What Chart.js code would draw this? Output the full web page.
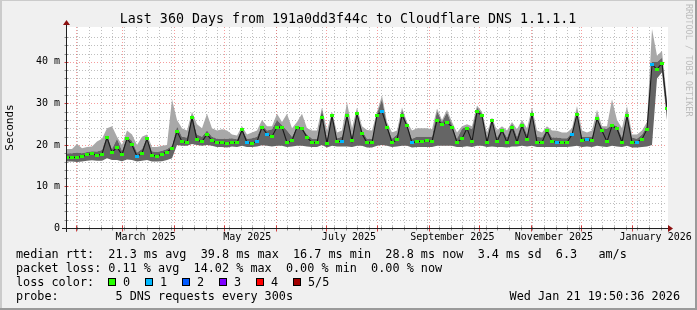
<!DOCTYPE html>
<html>
<head>
<meta charset="utf-8">
<script src="https://cdn.jsdelivr.net/npm/chart.js@4/dist/chart.umd.min.js"></script>
<style>
html, body { margin: 0; padding: 0; background: #f0f0f0; }
#wrap { position: relative; width: 697px; height: 310px; overflow: hidden; }
#c { position: absolute; left: 0; top: 0; }
.leg { position: absolute; font-family: 'DejaVu Sans Mono', monospace; font-size: 11.8px; line-height: 14px; white-space: pre; color: #000; }
.box { position: absolute; top: 278px; width: 6px; height: 6px; border: 1px solid #000; }
</style>
</head>
<body>
<div id="wrap">
  <canvas id="c" width="697" height="310"></canvas>
  <div id="legend"></div>
</div>
<script>
// ─── data (one sample every 3 days, day 0 = Jan 26 2025 19:50) ───
const DAY_STEP = 3;

const median = [
  17.0, 17.0, 17.0, 17.2, 17.6, 17.9, 17.5, 17.8, 21.8, 18.2,
  19.5, 17.6, 21.5, 20.0, 17.2, 18.0, 21.5, 17.5, 17.3, 17.8,
  18.3, 19.2, 23.3, 20.8, 20.5, 26.5, 21.2, 20.8, 22.6, 21.0,
  20.5, 20.5, 20.4, 20.6, 20.5, 23.6, 20.6, 20.4, 20.8, 24.3,
  22.6, 22.0, 24.3, 24.3, 20.6, 21.0, 24.3, 23.9, 21.8, 20.6,
  20.5, 26.7, 20.4, 27.0, 20.8, 20.9, 27.0, 21.0, 27.5, 22.7,
  20.5, 20.5, 27.2, 28.1, 24.3, 20.6, 21.2, 27.2, 24.6, 20.5,
  20.8, 20.9, 21.0, 20.8, 26.0, 25.0, 25.5, 24.3, 20.6, 21.5,
  24.0, 20.8, 28.0, 27.0, 20.6, 25.9, 20.8, 23.5, 20.6, 24.3,
  20.7, 24.6, 21.4, 27.4, 20.6, 20.6, 23.4, 20.8, 20.7, 20.5,
  20.6, 22.5, 27.4, 21.0, 21.3, 21.0, 26.3, 23.4, 20.8, 24.6,
  23.9, 20.6, 27.0, 20.6, 20.7, 21.4, 23.8, 39.4, 38.2, 39.7,
  28.8
];

// bottom of the smoke
const smokeLo = [
  16.0, 16.0, 15.9, 16.0, 16.2, 16.3, 16.2, 16.2, 16.8, 16.4,
  16.4, 16.1, 16.5, 16.4, 16.0, 16.2, 16.4, 16.0, 16.0, 16.1,
  16.4, 16.8, 20.0, 19.8, 19.8, 20.2, 20.0, 19.8, 20.0, 19.8,
  19.5, 19.5, 19.4, 19.6, 19.5, 19.8, 19.5, 19.5, 19.6, 19.9,
  19.8, 19.6, 19.8, 19.8, 19.5, 19.6, 19.8, 19.8, 19.6, 19.5,
  19.5, 20.0, 19.4, 19.8, 19.6, 19.6, 19.6, 19.5, 19.8, 19.8,
  19.4, 19.4, 19.8, 20.0, 19.8, 19.5, 19.6, 19.8, 19.8, 19.4,
  19.5, 19.5, 19.5, 19.5, 19.8, 19.8, 19.8, 19.8, 19.5, 19.5,
  19.7, 19.5, 19.8, 19.8, 19.5, 19.6, 19.5, 19.5, 19.4, 19.6,
  19.6, 19.8, 19.6, 19.8, 19.5, 19.5, 19.5, 19.5, 19.5, 19.5,
  19.5, 19.6, 19.8, 19.5, 19.6, 19.5, 19.8, 19.6, 19.5, 19.8,
  19.6, 19.5, 19.8, 19.4, 19.4, 19.5, 19.6, 20.0, 36.0, 37.5,
  26.0
];

// top of the dark smoke
const smokeMid = [
  18.0, 18.0, 18.2, 18.0, 18.3, 18.5, 18.4, 18.8, 22.5, 19.0,
  21.5, 18.6, 22.0, 21.0, 18.2, 19.0, 22.0, 18.5, 18.3, 18.6,
  19.0, 19.8, 24.5, 22.0, 21.8, 27.5, 22.5, 22.0, 23.5, 22.0,
  21.5, 21.5, 21.5, 21.6, 21.4, 24.0, 21.5, 21.6, 22.0, 24.8,
  23.5, 23.8, 26.0, 24.8, 23.5, 22.0, 24.5, 24.2, 22.5, 21.5,
  21.5, 28.7, 21.5, 27.5, 21.6, 22.0, 27.8, 22.0, 28.0, 23.5,
  21.5, 21.5, 27.5, 31.0, 24.8, 21.5, 22.5, 28.5, 25.0, 21.5,
  22.0, 22.0, 22.0, 22.0, 28.2, 25.5, 27.8, 24.8, 21.5, 23.9,
  24.5, 23.8, 29.0, 27.5, 21.5, 26.0, 21.8, 23.9, 21.8, 25.2,
  22.0, 25.4, 22.5, 27.8, 22.0, 21.8, 23.8, 21.8, 21.8, 21.6,
  21.6, 23.0, 28.0, 22.0, 22.0, 22.0, 26.8, 24.0, 23.9, 25.0,
  24.5, 21.8, 27.5, 21.8, 21.5, 22.5, 24.5, 40.0, 40.0, 41.0,
  30.0
];

// top of the light smoke
const smokeHi = [
  19.0, 19.0, 20.2, 19.2, 19.5, 19.6, 20.8, 21.5, 24.0, 24.5,
  22.0, 20.0, 23.5, 22.5, 20.0, 22.0, 22.5, 19.5, 19.5, 19.8,
  20.0, 31.0, 26.0, 24.0, 23.5, 28.0, 25.0, 24.0, 27.5, 24.0,
  23.5, 23.8, 23.5, 22.5, 22.3, 24.5, 22.5, 23.0, 23.5, 26.0,
  24.5, 24.5, 27.5, 25.5, 27.5, 24.0, 25.5, 27.5, 24.0, 23.5,
  23.5, 29.0, 23.5, 28.0, 23.0, 23.5, 30.3, 24.0, 29.0, 24.5,
  23.6, 23.5, 28.0, 31.9, 25.5, 23.0, 23.5, 29.0, 25.5, 23.5,
  24.0, 24.0, 24.0, 23.8, 28.8, 26.0, 28.5, 25.5, 23.0, 24.5,
  25.0, 24.5, 29.5, 28.0, 23.0, 26.5, 23.5, 24.5, 23.5, 25.5,
  23.8, 26.0, 24.0, 29.0, 23.5, 23.0, 24.5, 23.5, 23.4, 23.0,
  23.0, 24.0, 29.4, 23.5, 23.0, 23.5, 28.5, 24.5, 24.5, 31.0,
  26.0, 24.0, 29.4, 22.5, 22.5, 23.5, 25.5, 47.9, 41.5, 42.6,
  31.0
];

// samples that had 1/5 loss (all others 0)
const lossOnePoints = [14, 36, 38, 40, 55, 63, 69, 98, 101, 104, 114, 117];

const days = median.map((_, i) => i * DAY_STEP);

// axis stuff (days since start)
const monthStarts = [5.17, 33.17, 64.17, 94.17, 125.17, 155.17, 186.17, 217.17, 247.17, 278.17, 308.17, 339.17];
const labelDays = [47.17, 108.17, 169.17, 231.17, 292.17, 353.17];
const monthLabels = ['March 2025', 'May 2025', 'July 2025', 'September 2025', 'November 2025', 'January 2026'];
const firstSunday = 6.17;
const yTicks = [0, 10, 20, 30, 40];
const yTickLabels = ['0', '10 m', '20 m', '30 m', '40 m'];

const titleText = 'Last 360 Days from 191a0dd3f44c to Cloudflare DNS 1.1.1.1';
const rttStats = ['21.3 ms avg', '39.8 ms max', '16.7 ms min', '28.8 ms now', '3.4 ms sd', '6.3   am/s'];
const lossStats = ['0.11 % avg', '14.02 % max', '0.00 % min', '0.00 % now'];
const lossNames = ['0', '1', '2', '3', '4', '5/5'];
const lossColors = ['#26ff00', '#00b8ff', '#0059ff', '#7e00ff', '#ff0000', '#a10000'];
const probeText = '5 DNS requests every 300s';
const stampText = 'Wed Jan 21 19:50:36 2026';

// ─── legend (html text) ───
const leg = document.getElementById('legend');
function addText(txt, left, top, extra) {
    const d = document.createElement('div');
    d.className = 'leg';
    d.textContent = txt;
    d.style.left = left + 'px';
    d.style.top = top + 'px';
    if (extra) Object.assign(d.style, extra);
    leg.appendChild(d);
}
addText('median rtt:  ' + rttStats.join('  '), 16, 247);
addText('packet loss: ' + lossStats.join('  '), 16, 261);
addText('loss color:', 16, 275);
lossNames.forEach((n, k) => {
    const b = document.createElement('div');
    b.className = 'box';
    b.style.left = (108 + k * 37) + 'px';
    b.style.background = lossColors[k];
    leg.appendChild(b);
    addText(n, 123 + k * 37, 275);
});
addText('probe:        ' + probeText, 16, 289);
addText(stampText, 0, 289, { left: 'auto', right: '17px' });

// ─── median marks ───
function makeMark(color) {
    const cv = document.createElement('canvas');
    cv.width = 4; cv.height = 3;
    const c = cv.getContext('2d');
    c.fillStyle = color;
    c.fillRect(0, 0, 4, 3);
    return cv;
}
const marks = [makeMark(lossColors[0]), makeMark(lossColors[1])];

const pts = arr => arr.map((v, i) => ({ x: days[i], y: v }));

const MONO = "'DejaVu Sans Mono', monospace";

const rrdFrame = {
    id: 'rrdFrame',
    beforeDraw(chart) {
        const { ctx, chartArea: a, width, height } = chart;
        ctx.save();
        ctx.fillStyle = '#f0f0f0';
        ctx.fillRect(0, 0, width, height);
        ctx.fillStyle = '#cbcbcb';
        ctx.fillRect(0, 0, width, 1);
        ctx.fillRect(0, 0, 2, height);
        ctx.fillStyle = '#9a9a9a';
        ctx.fillRect(0, height - 2, width, 2);
        ctx.fillRect(width - 2, 0, 2, height);
        ctx.fillStyle = '#ffffff';
        ctx.fillRect(a.left, a.top, a.right - a.left + 1, a.bottom - a.top);
        // title
        ctx.font = '13.3px ' + MONO;
        ctx.fillStyle = '#000';
        ctx.textAlign = 'center';
        ctx.textBaseline = 'middle';
        ctx.fillText(titleText, 348, 20);
        ctx.restore();
    },
    beforeDatasetsDraw(chart) {
        const { ctx, chartArea: a } = chart;
        const xs = chart.scales.x, ys = chart.scales.y;
        ctx.save();
        ctx.lineWidth = 1;
        ctx.setLineDash([1, 2]);
        const vline = (d, color) => {
            const px = Math.round(xs.getPixelForValue(d)) + 0.5;
            ctx.strokeStyle = color;
            ctx.beginPath(); ctx.moveTo(px, a.top); ctx.lineTo(px, a.bottom); ctx.stroke();
        };
        const hline = (v, color) => {
            const py = Math.round(ys.getPixelForValue(v)) + 0.5;
            ctx.strokeStyle = color;
            ctx.beginPath(); ctx.moveTo(a.left, py); ctx.lineTo(a.right, py); ctx.stroke();
        };
        for (let d = firstSunday; d < 360; d += 7) vline(d, 'rgba(170,170,170,0.75)');
        for (let v = 2; v < 48; v += 2) if (v % 10) hline(v, 'rgba(170,170,170,0.75)');
        monthStarts.forEach(d => vline(d, 'rgba(240,90,90,0.6)'));
        yTicks.slice(1).forEach(v => hline(v, 'rgba(240,90,90,0.6)'));
        ctx.restore();
    },
    afterDraw(chart) {
        const { ctx, chartArea: a } = chart;
        const xs = chart.scales.x, ys = chart.scales.y;
        ctx.save();
        const y0 = Math.round(a.bottom) + 0.5;
        const x0 = Math.round(a.left) - 0.5;
        // tick marks
        ctx.lineWidth = 1;
        for (let v = 2; v < 48; v += 2) {
            const py = Math.round(ys.getPixelForValue(v)) + 0.5;
            ctx.strokeStyle = v % 10 ? '#909090' : '#d04040';
            ctx.beginPath(); ctx.moveTo(x0 - 2, py); ctx.lineTo(x0 + 2, py); ctx.stroke();
        }
        for (let d = firstSunday; d < 360; d += 7) {
            const px = Math.round(xs.getPixelForValue(d)) + 0.5;
            ctx.strokeStyle = '#909090';
            ctx.beginPath(); ctx.moveTo(px, y0 - 2); ctx.lineTo(px, y0 + 2); ctx.stroke();
        }
        monthStarts.forEach(d => {
            const px = Math.round(xs.getPixelForValue(d)) + 0.5;
            ctx.strokeStyle = '#d04040';
            ctx.beginPath(); ctx.moveTo(px, y0 - 3); ctx.lineTo(px, y0 + 3); ctx.stroke();
        });
        // axes
        ctx.strokeStyle = '#202020';
        ctx.beginPath();
        ctx.moveTo(a.left - 5, y0); ctx.lineTo(a.right + 2, y0);
        ctx.moveTo(x0, a.bottom + 4); ctx.lineTo(x0, a.top - 4);
        ctx.stroke();
        // arrows
        ctx.fillStyle = '#8c1010';
        ctx.beginPath();
        ctx.moveTo(a.right + 6, y0); ctx.lineTo(a.right + 1, y0 - 3.5); ctx.lineTo(a.right + 1, y0 + 3.5);
        ctx.closePath(); ctx.fill();
        ctx.beginPath();
        ctx.moveTo(x0, a.top - 7); ctx.lineTo(x0 - 3.5, a.top - 2); ctx.lineTo(x0 + 3.5, a.top - 2);
        ctx.closePath(); ctx.fill();
        // watermark
        ctx.translate(688, 4);
        ctx.rotate(Math.PI / 2);
        ctx.font = '8.5px ' + MONO;
        ctx.fillStyle = '#bdbdbd';
        ctx.textBaseline = 'middle';
        ctx.fillText('RRDTOOL / TOBI OETIKER', 0, 0);
        ctx.restore();
    }
};

new Chart(document.getElementById('c').getContext('2d'), {
    type: 'line',
    data: {
        datasets: [{
            label: 'median rtt',
            data: pts(median),
            borderColor: '#1a1a1a',
            borderWidth: 1.1,
            tension: 0,
            fill: false,
            pointStyle: ctx => marks[lossOnePoints.includes(ctx.dataIndex) ? 1 : 0],
            pointRadius: 3,
        }, {
            label: 'smoke low',
            data: pts(smokeLo),
            borderColor: 'rgba(0,0,0,0)',
            borderWidth: 1,
            pointRadius: 0,
            tension: 0,
            fill: false,
        }, {
            label: 'smoke dark',
            data: pts(smokeMid),
            borderColor: 'rgba(0,0,0,0)',
            borderWidth: 1,
            pointRadius: 0,
            tension: 0,
            fill: '-1',
            backgroundColor: '#656565',
        }, {
            label: 'smoke light',
            data: pts(smokeHi),
            borderColor: 'rgba(0,0,0,0)',
            borderWidth: 1,
            pointRadius: 0,
            tension: 0,
            fill: '-1',
            backgroundColor: '#a8a8a8',
        }]
    },
    options: {
        responsive: false,
        animation: false,
        devicePixelRatio: 1,
        events: [],
        layout: { padding: { top: 27, right: 30, bottom: 0, left: 0 } },
        plugins: {
            legend: { display: false },
            tooltip: { enabled: false },
            title: { display: false }
        },
        scales: {
            x: {
                type: 'linear',
                min: 0, max: 360,
                grid: { display: false, drawTicks: false },
                border: { display: false },
                afterBuildTicks: s => { s.ticks = labelDays.map(v => ({ value: v })); },
                ticks: {
                    autoSkip: false, maxRotation: 0, minRotation: 0, padding: 3,
                    color: '#000',
                    font: { family: MONO, size: 10 },
                    callback: (v, i) => monthLabels[i]
                },
                afterFit: s => { s.height = 82; s.paddingLeft = 0; s.paddingRight = 0; }
            },
            y: {
                type: 'linear',
                min: 0, max: 48.4,
                grid: { display: false, drawTicks: false },
                border: { display: false },
                afterBuildTicks: s => { s.ticks = yTicks.map(v => ({ value: v })); },
                ticks: {
                    padding: 7,
                    color: '#000',
                    font: { family: MONO, size: 10 },
                    callback: (v, i) => yTickLabels[i]
                },
                title: {
                    display: true,
                    text: 'Seconds',
                    color: '#000',
                    font: { family: MONO, size: 11 },
                    padding: { top: 3.4, bottom: 0 }
                },
                afterFit: s => { s.width = 67; s.paddingTop = 0; s.paddingBottom = 0; }
            }
        }
    },
    plugins: [rrdFrame]
});
</script>
</body>
</html>
